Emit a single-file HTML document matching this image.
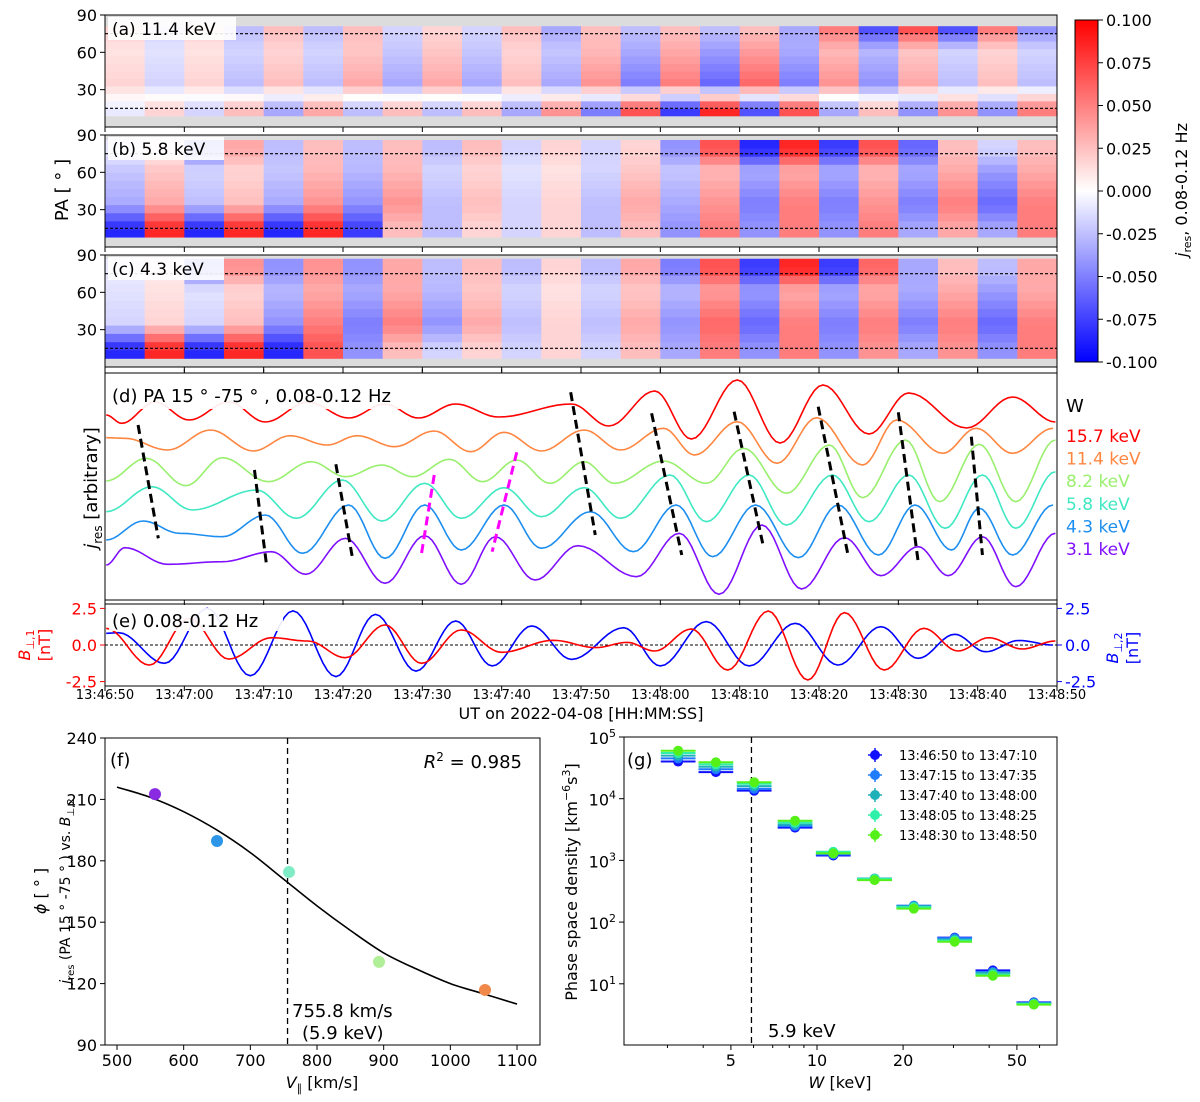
<!DOCTYPE html>
<html><head><meta charset="utf-8"><title>Electron wave phase analysis figure</title>
<style>
body{margin:0;background:#fff;}
svg{display:block;font-family:"DejaVu Sans","Liberation Sans",sans-serif;}
</style></head>
<body>
<svg id="fig" width="1200" height="1102" viewBox="0 0 1200 1102" xmlns="http://www.w3.org/2000/svg">
<defs>
<linearGradient id="bwr" x1="0" y1="1" x2="0" y2="0">
<stop offset="0" stop-color="#0000ff"/><stop offset="0.5" stop-color="#ffffff"/><stop offset="1" stop-color="#ff0000"/>
</linearGradient>
<clipPath id="clipD"><rect x="105" y="373" width="952" height="227"/></clipPath>
<clipPath id="clipE"><rect x="105" y="604" width="952" height="82"/></clipPath>
</defs>
</svg>
<script>
// ---------- heatmap data (stored in units of 0.1) ----------
const hmA_bot=[-.1,.2,-.2,.3,-.4,.4,-.3,.3,-.3,.3,-.4,.5,-.6,.8,-.9,1,-.8,.8,-.4,.3,-.5,.5,-.5,.6];
const hmA_mid=[.2,-.2,.2,-.3,.3,-.3,.4,-.4,.4,-.4,.3,-.4,.5,-.6,.6,-.7,.7,-.6,.5,-.5,.4,-.3,.3,-.3];
const hmA_top=[.2,-.2,.2,-.3,.3,-.3,.3,-.2,.2,-.2,.3,-.4,.3,-.3,.3,-.3,.3,-.4,.6,-.8,.8,-.8,.6,-.5];
const hmB_bot=[-1,1,-1,1,-1,1,-.9,.3,-.3,.2,-.2,.2,-.3,.3,-.5,.6,-.5,.6,-.5,.6,-.4,.4,-.4,.6];
const hmB_mid=[-.4,.4,-.3,.3,-.4,.5,-.5,.5,-.3,.3,-.2,.2,-.3,.4,-.4,.5,-.6,.6,-.6,.5,-.6,.6,-.7,.6];
const hmB_top=[-.1,.1,-.6,.4,-.3,.3,-.3,.3,-.3,.3,-.2,.2,-.2,.2,-.5,.8,-1,1,-.9,.8,-.7,.3,-.2,.3];
const hmC_bot=[-1,1,-1,1,-1,.8,-.5,.3,-.2,.2,-.2,.2,-.2,.3,-.4,.6,-.5,.6,-.5,.5,-.4,.5,-.5,.6];
const hmC_mid=[-.2,.2,-.2,.3,-.5,.6,-.6,.6,-.5,.4,-.3,.2,-.3,.4,-.5,.7,-.7,.6,-.6,.6,-.6,.6,-.7,.6];
const hmC_top=[-.1,.1,-.6,.5,-.5,.5,-.5,.4,-.3,.3,-.3,.2,-.3,.4,-.6,.8,-.9,1,-.9,.7,-.4,.3,-.3,.4];
const cbTicks=[0.100,0.075,0.050,0.025,0.000,-0.025,-0.050,-0.075,-0.100];
const timeTickLabels=["13:46:50","13:47:00","13:47:10","13:47:20","13:47:30","13:47:40","13:47:50","13:48:00","13:48:10","13:48:20","13:48:30","13:48:40","13:48:50"];
// ---------- panel d: extrema (time s, value arb.) ----------
const redT=[.15,2.1,6.3,10.6,15.6,20.2,25.6,30.7,35.3,39.5,44.2,49.6,58.8,63.5,69.3,73.9,79.7,85.1,90.5,96.3,101.3,108.6,114.4,119.8];
const redV=[18.5,17.67,19.8,18.0,19.8,17.8,19.8,18.2,19.6,18.2,19.6,18.3,19.6,17.4,20.9,16.1,22.0,15.7,21.5,16.6,20.7,17.2,20.3,17.8];
const orangeT=[.15,2.5,7.9,13.3,18.7,23.3,28.0,31.8,36.5,41.5,46.1,50.3,55.0,60.4,65.0,70.4,74.3,79.7,84.7,89.7,95.5,99.8,105.6,109.8,114.4,119.5];
const orangeV=[16.23,16.17,15.0,17.0,14.9,16.43,15.5,16.43,15.33,16.9,14.83,16.77,14.9,17.0,15.0,17.17,14.5,17.83,13.67,18.23,13.5,18.0,14.67,17.17,14.67,17.17];
const lgreenT=[.15,5.2,10.2,14.8,20.6,26.0,30.3,34.9,38.8,43.4,47.6,51.9,56.1,60.4,64.2,70.4,75.8,80.5,85.9,91.3,95.5,100.9,105.2,110.2,114.8,119.8];
const lgreenV=[11.9,14.17,11.43,14.23,11.83,13.83,12.33,13.5,12.33,14.07,11.83,14.0,11.67,13.83,11.67,13.9,11.67,15.17,10.67,15.5,10.23,16.0,9.83,15.57,9.83,16.0];
const cyanT=[.15,5.9,11.0,19.1,24.1,29.9,34.9,40.3,44.9,50.3,55.0,60.4,65.0,71.2,75.8,81.2,85.9,91.7,96.3,101.3,105.9,110.6,114.8,119.8];
const cyanV=[8.83,11.33,9.0,11.0,8.17,12.0,7.9,11.67,8.17,11.23,8.33,11.23,8.17,12.5,7.83,12.5,7.5,12.5,7.83,12.5,7.17,12.5,7.17,12.83];
const blueT=[.15,4.8,9.4,14.8,20.2,24.9,30.7,35.3,40.3,44.9,50.3,55.0,61.2,66.6,72.0,76.6,82.0,87.4,92.4,97.5,102.1,106.7,110.2,114.4,119.5];
const blueV=[6.0,7.9,6.67,6.33,8.5,4.67,9.5,4.17,9.5,5.0,9.5,5.17,8.83,4.83,9.5,4.33,9.5,4.23,9.5,4.5,9.5,5.0,9.17,4.5,9.5];
const purpleT=[.15,2.5,7.9,14.8,21.0,25.3,30.3,35.3,40.3,44.9,49.2,54.2,59.6,67.0,72.4,77.4,82.8,87.8,93.2,97.8,102.5,106.3,110.6,114.8,119.8];
const purpleV=[3.5,5.23,3.57,3.83,4.83,2.57,6.17,1.67,6.43,1.57,6.33,2.0,5.43,2.33,6.67,0.57,7.5,1.1,6.23,2.43,5.33,2.43,6.33,1.33,6.67];
const energyLabels=["15.7 keV","11.4 keV","8.2 keV","5.8 keV","4.3 keV","3.1 keV"];
const blackDashT0=[4.17,18.84,29.1,58.7,68.9,79.3,89.9,100.0,109.2];
const blackDashV0=[17.5,13.0,13.57,20.77,18.67,18.83,19.33,18.77,16.33];
const blackDashT1=[6.72,20.39,31.2,61.8,72.7,82.9,93.7,102.5,110.6];
const blackDashV1=[6.17,3.33,4.17,6.5,4.5,5.67,4.33,3.83,4.5];
const magDashT0=[41.5,51.9], magDashV0=[12.5,14.77], magDashT1=[39.9,48.8], magDashV1=[4.67,4.83];
// ---------- panel e ----------
const b1T=[.15,5.6,10.6,15.6,21.0,25.6,30.3,35.3,39.9,44.9,50.0,56.5,61.9,65.8,69.3,73.9,78.5,83.6,88.6,93.2,98.2,103.2,107.5,111.4,115.6,119.8];
const b1V=[1.14,-1.37,1.82,-0.96,0.50,0.27,-0.87,1.37,-1.25,1.03,-0.50,0.32,-0.18,0.18,-0.41,1.09,-1.71,2.32,-2.39,2.21,-1.71,1.14,-0.41,0.50,-0.27,0.27];
const b2T=[.15,1.7,7.5,12.9,18.3,23.7,29.1,34.1,39.2,44.2,48.8,53.8,58.8,65.4,70.0,75.8,81.2,87.0,92.4,97.8,102.5,107.1,111.0,115.2,119.5];
const b2V=[0.80,0.84,-1.25,2.50,-2.10,2.33,-2.16,2.09,-1.78,1.64,-1.43,1.30,-0.98,1.18,-1.43,1.60,-1.43,1.48,-1.37,1.25,-0.91,0.73,-0.46,0.31,0.0];
// ---------- panel f ----------
const fVpar=[557,650,758,893,1052];
const fPhi=[212.6,189.7,174.5,130.6,116.9];
const fitVpar=[500,550,600,650,700,750,800,850,900,950,1000,1050,1100];
const fitPhi=[216,211,204,195,184,171,158,146,135,127,120,115,110];
const fXTicks=[500,600,700,800,900,1000,1100];
const fYTicks=[90,120,150,180,210,240];
const vRes=755.8;
// ---------- panel g ----------
const gW=[3.27,4.43,6.03,8.38,11.4,15.9,21.8,30.3,41.2,57.3];
const gS1=[4.0e4,2.7e4,1.35e4,3.4e3,1.2e3,5.0e2,1.8e2,5.6e1,1.65e1,5.0];
const gS2=[4.5e4,3.0e4,1.45e4,3.6e3,1.25e3,5.0e2,1.85e2,5.5e1,1.55e1,4.9];
const gS3=[5.0e4,3.3e4,1.6e4,3.8e3,1.3e3,5.1e2,1.8e2,5.2e1,1.5e1,4.8];
const gS4=[5.5e4,3.6e4,1.75e4,4.1e3,1.38e3,5.0e2,1.75e2,5.0e1,1.4e1,4.7];
const gS5=[6.0e4,3.9e4,1.85e4,4.4e3,1.3e3,4.8e2,1.65e2,4.8e1,1.35e1,4.6];
const gLegend=["13:46:50 to 13:47:10","13:47:15 to 13:47:35","13:47:40 to 13:48:00","13:48:05 to 13:48:25","13:48:30 to 13:48:50"];
const gXTicks=[5,10,20,50];
const gYTicks=[1,2,3,4,5];
const wRes=5.9;

// ================= drawing =================
const NS="http://www.w3.org/2000/svg";
const svg=document.getElementById("fig");
function mk(tag,attrs,parent){const e=document.createElementNS(NS,tag);for(const k in attrs)e.setAttribute(k,attrs[k]);(parent||svg).appendChild(e);return e;}
function txt(s,x,y,size,anchor,fill,parent,extra){const e=mk("text",Object.assign({x:x,y:y,"font-size":size,"text-anchor":anchor||"start",fill:fill||"#000"},extra||{}),parent);e.textContent=s;return e;}
const X0=105,X1=1057;
const tx=t=>X0+t*(X1-X0)/120;
function bwr(v){let n=Math.max(-1,Math.min(1,v/0.1));let r,g,b;if(n<0){r=g=Math.round(255*(1+n));b=255;}else{r=255;g=b=Math.round(255*(1-n));}return`rgb(${r},${g},${b})`;}

// heatmaps
const panels=[
 {id:"a",y0:15,y1:127,lo:9,hi:81,bot:hmA_bot,mid:hmA_mid,top:hmA_top,label:"(a) 11.4 keV",bw:128},
 {id:"b",y0:135,y1:247,lo:8,hi:86,bot:hmB_bot,mid:hmB_mid,top:hmB_top,label:"(b) 5.8 keV",bw:116},
 {id:"c",y0:255,y1:367,lo:7,hi:87,bot:hmC_bot,mid:hmC_mid,top:hmC_top,label:"(c) 4.3 keV",bw:116}];
panels.forEach(P=>{
 const g=mk("g",{});
 
 
 const py=pa=>P.y1-(pa/90)*(P.y1-P.y0);
 mk("rect",{x:X0,y:P.y0,width:X1-X0,height:P.y1-P.y0,fill:"#dcdcdc"},g);
 const nC=P.bot.length,nR=12,cw=(X1-X0)/nC,rh=(P.hi-P.lo)/nR;
 for(let c=0;c<nC;c++)for(let r=0;r<nR;r++){
  const pa=P.lo+(r+0.5)*rh;let v;
  if(pa<=15)v=P.bot[c];else if(pa<=35)v=P.bot[c]+(P.mid[c]-P.bot[c])*(pa-15)/20;else if(pa<=62)v=P.mid[c]*(1-0.35*(pa-35)/27);else if(pa<=78)v=P.mid[c]*0.65+(P.top[c]-P.mid[c]*0.65)*(pa-62)/16;else v=P.top[c];
  const cell=mk("rect",{x:X0+c*cw,y:py(P.lo+(r+1)*rh),width:cw+0.5,height:(P.y1-P.y0)*rh/90+0.5,fill:bwr(v*0.085)},g);
  
  
 }
 [15,75].forEach(pa=>mk("line",{x1:X0,x2:X1,y1:py(pa),y2:py(pa),stroke:"#000","stroke-width":1.2,"stroke-dasharray":"3,2"},g));
 mk("rect",{x:X0,y:P.y0,width:X1-X0,height:P.y1-P.y0,fill:"none",stroke:"#000","stroke-width":1},g);
 [30,60,90].forEach(pa=>{mk("line",{x1:X0-5,x2:X0,y1:py(pa),y2:py(pa),stroke:"#000"},g);txt(String(pa),X0-8,py(pa)+6,16,"end","#000",g);});
 timeTickLabels.forEach((s,i)=>mk("line",{x1:tx(i*10),x2:tx(i*10),y1:P.y1,y2:P.y1+5,stroke:"#000"},g));
 mk("rect",{x:X0+3,y:P.y0+2,width:P.bw,height:23,fill:"#fff",opacity:0.9},g);
 const lt=txt(P.label,X0+7,P.y0+20,17,"start","#000",g);
 
 
});
const paLab=txt("PA [ ° ]",0,0,18,"middle","#000",svg,{transform:"translate(68,190) rotate(-90)"});



// colorbar
const cb=mk("g",{});


const cbY=v=>191-v/0.1*171;
mk("rect",{x:1075,y:cbY(0.1),width:23,height:cbY(-0.1)-cbY(0.1),fill:"url(#bwr)",stroke:"#000"},cb);
cbTicks.forEach(v=>{mk("line",{x1:1098,x2:1103,y1:cbY(v),y2:cbY(v),stroke:"#000"},cb);txt(v.toFixed(3),1106,cbY(v)+6,16,"start","#000",cb);});
txt("j",0,0,16,"middle","#000",cb,{transform:"translate(1187,190) rotate(-90)"}).innerHTML='<tspan font-style="italic">j</tspan><tspan font-size="11" dy="4">res</tspan><tspan dy="-4">, 0.08-0.12 Hz</tspan>';

// panel d
const D0=373,D1=600;
const dy=v=>D1-v*10;
function wave(T,V,xf,yf){let d="";for(let i=0;i<T.length-1;i++){for(let k=0;k<=10;k++){if(i>0&&k==0)continue;const s=k/10;const t=T[i]+(T[i+1]-T[i])*s;const v=V[i]+(V[i+1]-V[i])*(1-Math.cos(Math.PI*s))/2;d+=(d?"L":"M")+xf(t).toFixed(1)+","+yf(v).toFixed(1);}}return d;}
const gd=mk("g",{});


const gdc=mk("g",{"clip-path":"url(#clipD)"},gd);
const dSeries=[[redT,redV,"#ff0000"],[orangeT,orangeV,"#ff8640"],[lgreenT,lgreenV,"#99ef6e"],[cyanT,cyanV,"#3fe8c2"],[blueT,blueV,"#1c8ef0"],[purpleT,purpleV,"#7f10ff"]];
dSeries.forEach((s,i)=>{const p=mk("path",{d:wave(s[0],s[1],tx,dy),fill:"none",stroke:s[2],"stroke-width":1.6},gdc);
 
 });
blackDashT0.forEach((t,i)=>{const l=mk("line",{x1:tx(t),y1:dy(blackDashV0[i]),x2:tx(blackDashT1[i]),y2:dy(blackDashV1[i]),stroke:"#000","stroke-width":3,"stroke-dasharray":"9,5"},gdc);
 
 });
magDashT0.forEach((t,i)=>{const l=mk("line",{x1:tx(t),y1:dy(magDashV0[i]),x2:tx(magDashT1[i]),y2:dy(magDashV1[i]),stroke:"#ff00ff","stroke-width":3,"stroke-dasharray":"9,5"},gdc);
 
 });
mk("rect",{x:109,y:381,width:310,height:28,fill:"#fff",opacity:0.92},gd);
txt("(d) PA 15 ° -75 ° , 0.08-0.12 Hz",112,402,18,"start","#000",gd);
mk("rect",{x:X0,y:D0,width:X1-X0,height:D1-D0,fill:"none",stroke:"#000"},gd);
timeTickLabels.forEach((s,i)=>{mk("line",{x1:tx(i*10),x2:tx(i*10),y1:D1,y2:D1+5,stroke:"#000"},gd);mk("line",{x1:tx(i*10),x2:tx(i*10),y1:D0,y2:D0-4,stroke:"#000"},gd);});
txt("W",1066,412,18,"start","#000",gd);
energyLabels.forEach((s,i)=>{const e=txt(s,1066,442+i*22.6,17,"start",dSeries[i][2],gd);
 
 });
txt("",0,0,18,"middle","#000",gd,{transform:"translate(97,488) rotate(-90)"}).innerHTML='<tspan font-style="italic">j</tspan><tspan font-size="12" dy="5">res</tspan><tspan dy="-5"> [arbitrary]</tspan>';

// panel e
const E0=604,E1=686;
const ey=v=>645-v*41/2.8;
const ge=mk("g",{});


mk("line",{x1:X0,x2:X1,y1:ey(0),y2:ey(0),stroke:"#000","stroke-dasharray":"3,2"},ge);
const gec=mk("g",{"clip-path":"url(#clipE)"},ge);
const pb2=mk("path",{d:wave(b2T,b2V,tx,ey),fill:"none",stroke:"#0000ff","stroke-width":1.6},gec);


const pb1=mk("path",{d:wave(b1T,b1V,tx,ey),fill:"none",stroke:"#ff0000","stroke-width":1.6},gec);


mk("rect",{x:109,y:608,width:174,height:23,fill:"#fff",opacity:0.92},ge);
txt("(e) 0.08-0.12 Hz",112,627,18,"start","#000",ge);
mk("rect",{x:X0,y:E0,width:X1-X0,height:E1-E0,fill:"none",stroke:"#000"},ge);
[2.5,0,-2.5].forEach(v=>{mk("line",{x1:X0-5,x2:X0,y1:ey(v),y2:ey(v),stroke:"#f00"},ge);txt(v.toFixed(1),X0-8,ey(v)+6,16,"end","#f00",ge);
 mk("line",{x1:X1,x2:X1+5,y1:ey(v),y2:ey(v),stroke:"#00f"},ge);txt(v.toFixed(1),X1+8,ey(v)+6,16,"start","#00f",ge);});
timeTickLabels.forEach((s,i)=>{mk("line",{x1:tx(i*10),x2:tx(i*10),y1:E1,y2:E1+5,stroke:"#000"},ge);txt(s,tx(i*10),699,13,"middle","#000",ge);});
txt("",0,0,16,"middle","#f00",ge,{transform:"translate(30,645) rotate(-90)"}).innerHTML='<tspan font-style="italic">B</tspan><tspan font-size="11" dy="4">⊥,1</tspan>';
txt("[nT]",0,0,16,"middle","#f00",ge,{transform:"translate(50,645) rotate(-90)"});
txt("",0,0,16,"middle","#00f",ge,{transform:"translate(1118,648) rotate(-90)"}).innerHTML='<tspan font-style="italic">B</tspan><tspan font-size="11" dy="4">⊥,2</tspan>';
txt("[nT]",0,0,16,"middle","#00f",ge,{transform:"translate(1138,648) rotate(-90)"});
const utl=txt("UT on 2022-04-08 [HH:MM:SS]",581,719,16,"middle","#000",ge);



// panel f
const F={x0:105,x1:540,y0:738,y1:1045};
const fx=v=>117+(v-500)*0.6667;
const fy=v=>F.y1-(v-90)*(F.y1-F.y0)/150;
const gf=mk("g",{});


// Catmull-Rom smoothing of fit curve
let fd="M"+fx(fitVpar[0])+","+fy(fitPhi[0]);
for(let i=0;i<fitVpar.length-1;i++){
 const p0=[fx(fitVpar[Math.max(0,i-1)]),fy(fitPhi[Math.max(0,i-1)])],p1=[fx(fitVpar[i]),fy(fitPhi[i])],p2=[fx(fitVpar[i+1]),fy(fitPhi[i+1])],p3=[fx(fitVpar[Math.min(fitVpar.length-1,i+2)]),fy(fitPhi[Math.min(fitVpar.length-1,i+2)])];
 const c1=[p1[0]+(p2[0]-p0[0])/6,p1[1]+(p2[1]-p0[1])/6],c2=[p2[0]-(p3[0]-p1[0])/6,p2[1]-(p3[1]-p1[1])/6];
 fd+="C"+c1.join(",")+" "+c2.join(",")+" "+p2.join(",");
}
const fit=mk("path",{d:fd,fill:"none",stroke:"#000","stroke-width":1.6},gf);


mk("line",{x1:fx(vRes),x2:fx(vRes),y1:F.y0,y2:F.y1,stroke:"#000","stroke-width":1.3,"stroke-dasharray":"6,4"},gf);
const fColReal=["#8a2be2","#2e96e8","#80ecc6","#b0ee98","#f0884a"];
fVpar.forEach((v,i)=>{const c=mk("circle",{cx:fx(v),cy:fy(fPhi[i]),r:6,fill:fColReal[i]},gf);
 
 });
mk("rect",{x:F.x0,y:F.y0,width:F.x1-F.x0,height:F.y1-F.y0,fill:"none",stroke:"#000"},gf);
fXTicks.forEach(v=>{mk("line",{x1:fx(v),x2:fx(v),y1:F.y1,y2:F.y1+5,stroke:"#000"},gf);txt(String(v),fx(v),1066,16,"middle","#000",gf);});
fYTicks.forEach(v=>{mk("line",{x1:F.x0-5,x2:F.x0,y1:fy(v),y2:fy(v),stroke:"#000"},gf);txt(String(v),F.x0-8,fy(v)+6,16,"end","#000",gf);});
txt("(f)",110,766,18,"start","#000",gf);
txt("",522,768,18,"end","#000",gf).innerHTML='<tspan font-style="italic">R</tspan><tspan font-size="12" dy="-7">2</tspan><tspan dy="7"> = 0.985</tspan>';
txt("755.8 km/s",292,1017,18,"start","#000",gf);
txt("(5.9 keV)",302,1039,18,"start","#000",gf);
txt("",322,1088,16,"middle","#000",gf).innerHTML='<tspan font-style="italic">V</tspan><tspan font-size="11" dy="4">∥</tspan><tspan dy="-4"> [km/s]</tspan>';
txt("",0,0,16,"middle","#000",gf,{transform:"translate(46,891) rotate(-90)"}).innerHTML='<tspan font-style="italic">ϕ</tspan> [ ° ]';
txt("",0,0,14,"middle","#000",gf,{transform:"translate(70,891) rotate(-90)"}).innerHTML='<tspan font-style="italic">j</tspan><tspan font-size="10" dy="4">res</tspan><tspan dy="-4"> (PA 15 ° -75 ° ) vs. </tspan><tspan font-style="italic">B</tspan><tspan font-size="10" dy="4">⊥,2</tspan>';

// panel g
const G={x0:624,x1:1057,y0:737,y1:1045};
const gx=w=>817+(Math.log10(w)-1)*286;
const gy=p=>G.y0+(5-Math.log10(p))*61.7;
const gg=mk("g",{});


mk("line",{x1:gx(wRes),x2:gx(wRes),y1:G.y0,y2:G.y1,stroke:"#000","stroke-width":1.3,"stroke-dasharray":"6,4"},gg);
const gSeries=[gS1,gS2,gS3,gS4,gS5];
const gCols=["#1010ff","#1f7cff","#20b0b8","#2ff0a8","#55f018"];
gSeries.forEach((S,si)=>{S.forEach((p,i)=>{const w=gW[i];
 mk("line",{x1:gx(w/1.15),x2:gx(w*1.15),y1:gy(p),y2:gy(p),stroke:gCols[si],"stroke-width":2},gg);
 mk("line",{x1:gx(w),x2:gx(w),y1:gy(p)-4,y2:gy(p)+4,stroke:gCols[si],"stroke-width":1.5},gg);
 const c=mk("circle",{cx:gx(w),cy:gy(p),r:5,fill:gCols[si]},gg);
 
 });});
mk("rect",{x:G.x0,y:G.y0,width:G.x1-G.x0,height:G.y1-G.y0,fill:"none",stroke:"#000"},gg);
gXTicks.forEach(v=>{mk("line",{x1:gx(v),x2:gx(v),y1:G.y1,y2:G.y1+5,stroke:"#000"},gg);txt(String(v),gx(v),1066,16,"middle","#000",gg);});
[3,4,6,7,8,9,30,40,60].forEach(v=>mk("line",{x1:gx(v),x2:gx(v),y1:G.y1,y2:G.y1+3,stroke:"#000"},gg));
gYTicks.forEach(e=>{mk("line",{x1:G.x0-5,x2:G.x0,y1:gy(Math.pow(10,e)),y2:gy(Math.pow(10,e)),stroke:"#000"},gg);
 txt("",G.x0-8,gy(Math.pow(10,e))+7,16,"end","#000",gg).innerHTML='10<tspan font-size="11" dy="-7">'+e+'</tspan>';});
txt("(g)",627,766,18,"start","#000",gg);
txt("5.9 keV",768,1037,18,"start","#000",gg);
txt("",840,1088,16,"middle","#000",gg).innerHTML='<tspan font-style="italic">W</tspan> [keV]';
txt("",0,0,16,"middle","#000",gg,{transform:"translate(577,882) rotate(-90)"}).innerHTML='Phase space density [km<tspan font-size="11" dy="-7">−6</tspan><tspan dy="7">s</tspan><tspan font-size="11" dy="-7">3</tspan><tspan dy="7">]</tspan>';
gLegend.forEach((s,i)=>{const y=755+i*20;
 const le=mk("g",{},gg);
 
 
 mk("line",{x1:868,x2:882,y1:y,y2:y,stroke:gCols[i],"stroke-width":1.5},le);
 mk("line",{x1:875,x2:875,y1:y-7,y2:y+7,stroke:gCols[i],"stroke-width":1.5},le);
 mk("circle",{cx:875,cy:y,r:5,fill:gCols[i]},le);
 txt(s,899,y+5,13,"start","#000",le);});
</script>
</body></html>
